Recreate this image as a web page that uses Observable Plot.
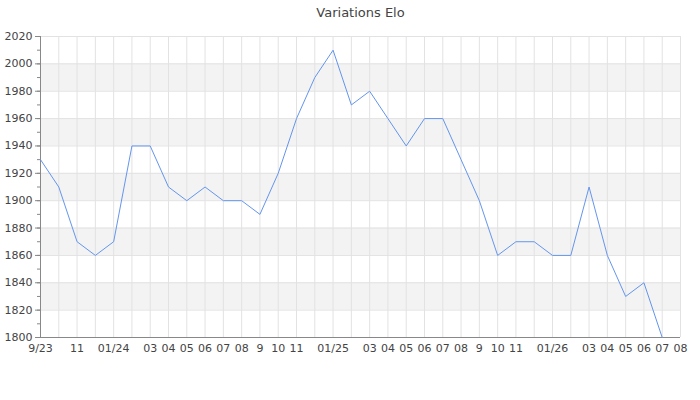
<!DOCTYPE html>
<html>
<head>
<meta charset="utf-8">
<script src="https://cdn.jsdelivr.net/npm/d3@7"></script>
<script src="https://cdn.jsdelivr.net/npm/@observablehq/plot@0.6"></script>
<style>
  html, body { margin: 0; padding: 0; background: #fff; }
  svg { display: block; font-family: "DejaVu Sans", sans-serif; }
</style>
</head>
<body>
<div id="chart"></div>
<script>
const title = "Variations Elo";

const months = [
  "2023-09","2023-10","2023-11","2023-12",
  "2024-01","2024-02","2024-03","2024-04","2024-05","2024-06","2024-07","2024-08","2024-09","2024-10","2024-11","2024-12",
  "2025-01","2025-02","2025-03","2025-04","2025-05","2025-06","2025-07","2025-08","2025-09","2025-10","2025-11","2025-12",
  "2026-01","2026-02","2026-03","2026-04","2026-05","2026-06","2026-07","2026-08"
];

const tickLabels = [
  "9/23","","11","",
  "01/24","","03","04","05","06","07","08","9","10","11","",
  "01/25","","03","04","05","06","07","08","9","10","11","",
  "01/26","","03","04","05","06","07","08"
];

const elo = [
  1930,1910,1870,1860,
  1870,1940,1940,1910,1900,1910,1900,1900,1890,1920,1960,1990,
  2010,1970,1980,1960,1940,1960,1960,1930,1900,1860,1870,1870,
  1860,1860,1910,1860,1830,1840,1800
];

const bandLo = [1820, 1860, 1900, 1940, 1980];
const bandHi = [1840, 1880, 1920, 1960, 2000];

const yMajor = d3.range(1800, 2021, 20);
const yMinor = d3.range(1800, 2021, 10);

const data = elo.map((v, i) => ({month: months[i], elo: v}));
const bands = bandLo.map((lo, i) => ({lo, hi: bandHi[i]}));
const labelOf = new Map(months.map((m, i) => [m, tickLabels[i]]));

const plot = Plot.plot({
  width: 700,
  height: 400,
  marginLeft: 40,
  marginRight: 20,
  marginTop: 36,
  marginBottom: 63,
  style: {fontFamily: "DejaVu Sans, sans-serif", fontSize: "11px", color: "#444", background: "#fff"},
  x: {type: "point", domain: months, padding: 0, round: false},
  y: {domain: [1800, 2020]},
  marks: [
    Plot.rect(bands, {y1: "lo", y2: "hi", fill: "#f3f3f3"}),
    Plot.gridY(yMajor, {stroke: "#e2e2e2", strokeOpacity: 1}),
    Plot.gridX(months, {stroke: "#e2e2e2", strokeOpacity: 1}),
    Plot.axisY(yMinor, {tickSize: 3, text: null, stroke: "#888"}),
    Plot.axisY(yMajor, {tickSize: 5, tickPadding: 3, stroke: "#888", fill: "#444", label: null, tickFormat: d => String(d)}),
    Plot.axisX(months, {tickSize: 0, tickPadding: 7, fill: "#444", label: null, tickFormat: d => labelOf.get(d)}),
    Plot.ruleX([months[0]], {stroke: "#888"}),
    Plot.ruleY([1800], {stroke: "#888"}),
    Plot.line(data, {x: "month", y: "elo", stroke: "#6495ed", strokeWidth: 1}),
    Plot.text([title], {frameAnchor: "top", lineAnchor: "middle", dy: -24, fontSize: 13, fill: "#444"})
  ]
});

document.getElementById("chart").appendChild(plot);
</script>
</body>
</html>
